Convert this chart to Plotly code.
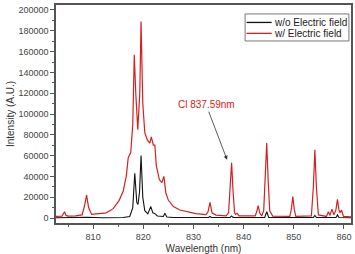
import plotly.graph_objects as go

# Red: with electric field
red_wl = [802.6, 803.8, 804.3, 804.6, 805.0, 806.5, 807.8, 808.3, 808.7, 809.1, 809.7, 811.0, 812.6,
          814.0, 815.2, 816.0, 816.6, 817.0, 817.5, 817.9, 818.2, 818.5, 818.9, 819.3, 819.55,
          819.9, 820.3, 820.8, 821.3, 821.6, 822.0, 822.3, 822.6, 823.2, 823.7, 824.1, 824.5,
          825.0, 826.0, 827.3, 829.0, 830.5, 832.5, 832.9, 833.3, 833.7, 834.5, 836.5, 837.0,
          837.3, 837.6, 837.9, 838.2, 838.4, 838.7, 839.1, 842.3, 842.6, 842.9, 843.2, 843.6,
          844.0, 844.3, 844.6, 844.9, 845.2, 845.8,
          849.2, 849.5, 849.8, 850.1, 850.4, 853.5, 853.9, 854.2, 854.5, 854.9, 856.5, 856.9,
          857.2, 857.6, 858.0, 858.4, 858.7, 859.0, 859.2, 859.5, 859.9, 861.5]
red_int = [1500, 1800, 6000, 2500, 1800, 2000, 3000, 12000, 22000, 10000, 3500, 4000, 5000,
           9000, 17000, 26000, 40000, 58000, 63000, 90000, 157000, 120000, 85000, 120000, 189000,
           110000, 82000, 75000, 72000, 78000, 70000, 70000, 50000, 37000, 34000, 40000, 24000,
           17000, 11000, 7700, 5500, 4300, 3200, 6000, 15000, 5000, 2800, 2000, 5000,
           25000, 53000, 25000, 5000, 3500, 4500, 2000, 2000, 6000, 12000, 5000, 2000,
           7000, 35000, 72000, 35000, 7000, 1800,
           1500, 8000, 20500, 8000, 1500, 2000, 30000, 65500, 30000, 3000, 1500, 6000,
           2500, 8500, 3000, 8000, 18000, 8000, 5000, 7700, 1500, 1000]

# Black: without electric field
blk_wl = [802.6, 808.7, 812.0, 816.0, 817.3, 817.9, 818.3, 818.7, 818.95, 819.25, 819.55, 819.9,
          820.3, 820.9, 821.5, 821.9, 822.4, 822.8, 824.0, 824.3, 824.7, 826.0, 833.0, 833.3,
          833.6, 837.3, 837.6, 837.9, 844.2, 844.6, 845.0, 849.5, 849.8, 850.1, 853.9, 854.2,
          854.5, 858.4, 858.7, 859.0, 861.5]
blk_int = [200, 800, 300, 500, 1500, 10000, 43000, 15000, 13000, 25000, 60000, 20000,
           7000, 4000, 11000, 5000, 4000, 2000, 1500, 4500, 1000, 500, 500, 1500,
           500, 500, 2000, 500, 500, 6000, 500, 500, 1200, 500, 500, 2500,
           500, 500, 3000, 500, 300]

x_ticks = [810, 820, 830, 840, 850, 860]
x_labels = ["810", "820", "830", "840", "850", "860"]
y_ticks = [0, 20000, 40000, 60000, 80000, 100000, 120000, 140000, 160000, 180000, 200000]
y_labels = ["0", "20000", "40000", "60000", "80000", "100000", "120000", "140000",
            "160000", "180000", "200000"]

series_names = ["w/o Electric field", "w/ Electric field"]
series_colors = ["#111111", "#d42020"]

FONT = "Arial, Liberation Sans"

fig = go.Figure()
fig.add_trace(go.Scatter(x=blk_wl, y=blk_int, mode="lines", name=series_names[0],
                         line=dict(color=series_colors[0], width=1.1)))
fig.add_trace(go.Scatter(x=red_wl, y=red_int, mode="lines", name=series_names[1],
                         line=dict(color=series_colors[1], width=1.2)))

axis_common = dict(showline=True, linecolor="#555555", linewidth=1.5, mirror=True,
                   ticks="outside", ticklen=4, tickcolor="#555555", showgrid=False, zeroline=False,
                   automargin=False,
                   tickfont=dict(family=FONT, size=9, color="#444444"))

fig.update_xaxes(range=[802.6, 861.4], tickvals=x_ticks, ticktext=x_labels,
                 minor=dict(ticks="outside", ticklen=2, dtick=5, tick0=805, tickcolor="#555555"),
                 title=dict(text="Wavelength (nm)", font=dict(family=FONT, size=10, color="#333333"),
                            standoff=4),
                 **axis_common)
fig.update_yaxes(range=[-4800, 204800], tickvals=y_ticks, ticktext=y_labels,
                 minor=dict(ticks="outside", ticklen=2, dtick=10000, tick0=0, tickcolor="#555555"),
                 title=dict(text="Intensity (A.U.)", font=dict(family=FONT, size=10, color="#333333"),
                            standoff=2),
                 **axis_common)

fig.add_annotation(x=836.7, y=56000, text="Cl 837.59nm", showarrow=True,
                   ax=-21, ay=-55, arrowhead=2, arrowsize=1, arrowwidth=0.8, arrowcolor="#333333",
                   font=dict(family=FONT, size=10, color="#d42020"))

# Compact legend box (drawn with shapes + text, in paper coordinates)
fig.add_shape(type="rect", xref="paper", yref="paper", x0=0.641, x1=0.993, y0=0.835, y1=0.959,
              line=dict(color="#777777", width=1), fillcolor="white", layer="above")
legend_y = [0.920, 0.870]
for name, col, yy in zip(series_names, series_colors, legend_y):
    fig.add_shape(type="line", xref="paper", yref="paper", x0=0.646, x1=0.731, y0=yy, y1=yy,
                  line=dict(color=col, width=1.3), layer="above")
    fig.add_annotation(xref="paper", yref="paper", x=0.733, y=yy, text=name, showarrow=False,
                       xanchor="left", yanchor="middle",
                       font=dict(family=FONT, size=10, color="#222222"))

fig.update_layout(
    width=355, height=254,
    margin=dict(l=56, r=4, t=5, b=31, autoexpand=False),
    paper_bgcolor="white", plot_bgcolor="white",
    showlegend=False,
)

fig.write_html("out.html")
